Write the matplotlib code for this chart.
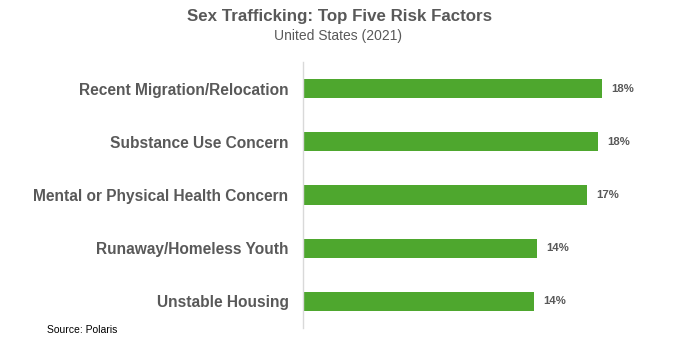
import matplotlib
matplotlib.use("Agg")
import matplotlib.pyplot as plt

categories = ["Recent Migration/Relocation", "Substance Use Concern",
              "Mental or Physical Health Concern", "Runaway/Homeless Youth",
              "Unstable Housing"]
values = [18.0, 17.8, 17.1, 14.1, 13.9]
value_labels = ["18%", "18%", "17%", "14%", "14%"]

title = "Sex Trafficking: Top Five Risk Factors"
subtitle = "United States (2021)"
source = "Source: Polaris"

W, H = 682, 351
fig = plt.figure(figsize=(W/100, H/100), dpi=100)
fam = ["Liberation Sans", "DejaVu Sans"]
grey = "#595959"
green = "#4EA72E"

# axes in pixel coords
left, right, top, bottom = 303, 635, 62, 328
ax = fig.add_axes([left/W, 1-bottom/H, (right-left)/W, (bottom-top)/H])
y = list(range(len(categories)))
ax.barh(y, values, height=0.36, color=green, zorder=2)
ax.set_xlim(0, 20)
ax.set_ylim(len(categories)-0.5, -0.5)
for s in ["top", "right", "bottom"]:
    ax.spines[s].set_visible(False)
ax.spines["left"].set_color("#D9D9D9")
ax.spines["left"].set_linewidth(1.0)
ax.set_xticks([])
ax.set_yticks(y)
ax.set_yticklabels(categories, fontsize=11.2, fontweight="bold", color=grey, family=fam)
ax.tick_params(axis="y", length=0, pad=10.5)
for yi, v, lab in zip(y, values, value_labels):
    ax.annotate(lab, (v, yi), xytext=(6.5, 0), textcoords="offset points",
                va="center", ha="left", fontsize=8.2, fontweight="bold",
                color=grey, family=fam)

fig.text(340/W, 1-17/H, title, ha="center", va="center", fontsize=12.2,
         fontweight="bold", color=grey, family=fam)
fig.text(338/W, 1-36/H, subtitle, ha="center", va="center", fontsize=10,
         color=grey, family=fam)
fig.text(47/W, 1-330/H, source, ha="left", va="center", fontsize=7.5,
         color="#000000", family=fam)

fig.savefig("out.png", dpi=100)
